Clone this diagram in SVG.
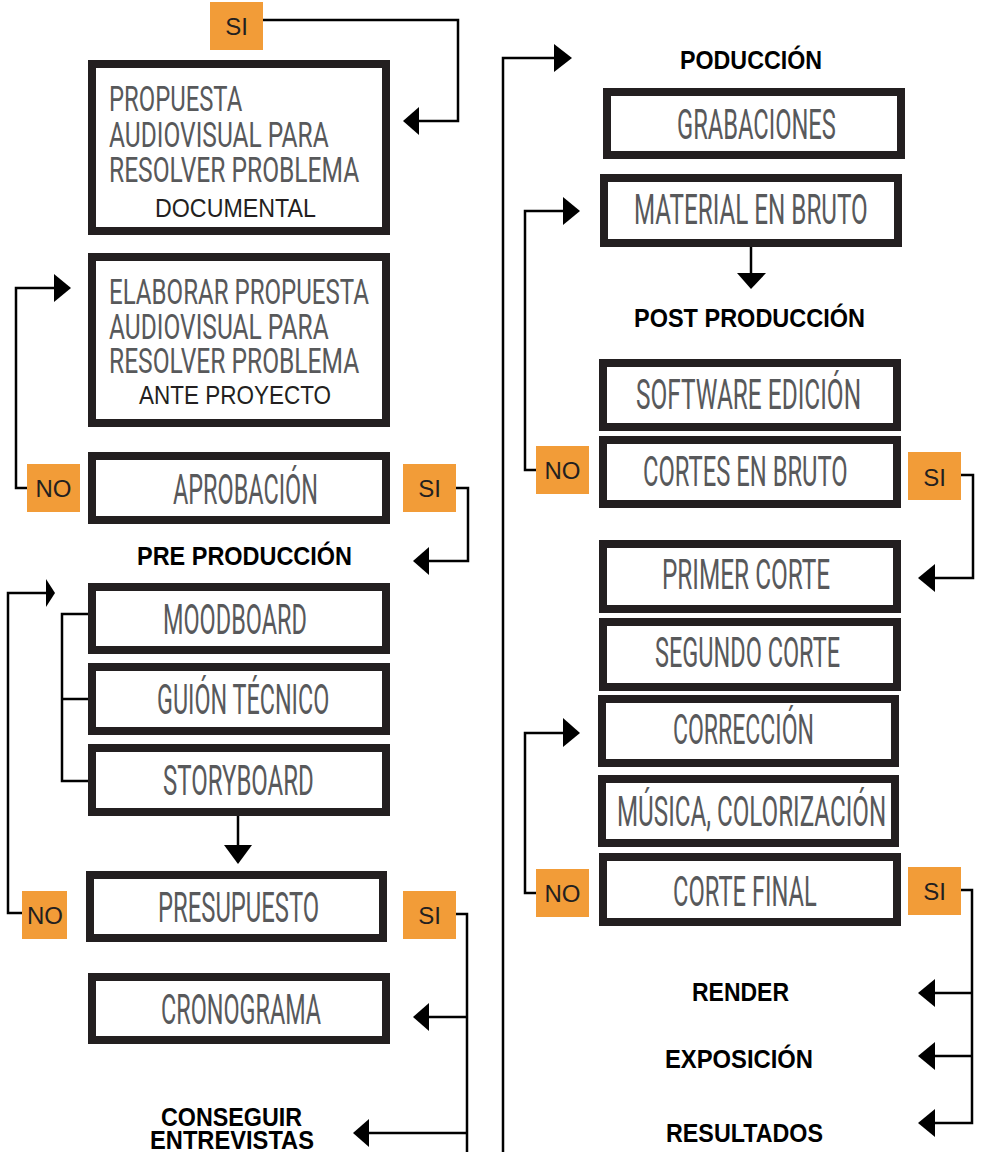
<svg xmlns="http://www.w3.org/2000/svg" width="983" height="1152" viewBox="0 0 983 1152">
<style>
.box{fill:#fff;stroke:#231f20;stroke-width:8}
.t{font-family:"Roboto","Liberation Sans",sans-serif;font-weight:400;fill:#58595b;font-size:42px}
.t2{font-size:35px}
.sub{font-family:"Liberation Sans",Arial,sans-serif;font-weight:normal;fill:#231f20;font-size:25px}
.h{font-family:"Liberation Sans",Arial,sans-serif;font-weight:bold;fill:#000;font-size:25px}
.lab{fill:#f29c38}
.lt{font-family:"Liberation Sans",Arial,sans-serif;font-size:24px;fill:#231f20;text-anchor:middle}
.c{fill:none;stroke:#000;stroke-width:2.5}
.ah{fill:#000}
</style>
<rect width="983" height="1152" fill="#fff"/>
<g id="connectors">
<path class="c" d="M263 20 H458 V121 H419"/>
<polygon class="ah" points="403,121 419,107 419,135"/>
<path class="c" d="M27 488 H16 V288 H54"/>
<polygon class="ah" points="71,288 54,274 54,302"/>
<path class="c" d="M456 488 H468 V561 H429"/>
<polygon class="ah" points="413,561 429,547 429,575"/>
<path class="c" d="M22 913 H8 V593 H46"/>
<polygon class="ah" points="55,593 46,579 46,607"/>
<path class="c" d="M88 614 H62 V781 H88 M62 699 H90"/>
<path class="c" d="M238 816 V846"/>
<polygon class="ah" points="238,864 224,845 252,845"/>
<path class="c" d="M456 914 H467 V1152 M467 1017 H429 M467 1133 H369"/>
<polygon class="ah" points="413,1017 429,1003 429,1031"/>
<polygon class="ah" points="353,1133 369,1119 369,1147"/>
<path class="c" d="M503 1152 V58 H554"/>
<polygon class="ah" points="572,58 554,44 554,72"/>
<path class="c" d="M536 470 H525 V211 H563"/>
<polygon class="ah" points="580,211 563,197 563,225"/>
<path class="c" d="M751 247 V274"/>
<polygon class="ah" points="751,289 737,273 766,273"/>
<path class="c" d="M961 475 H973 V578 H935"/>
<polygon class="ah" points="918,578 935,564 935,592"/>
<path class="c" d="M536 893 H525 V733 H563"/>
<polygon class="ah" points="580,733 563,718 563,747"/>
<path class="c" d="M961 890 H972 V1123 H935 M972 993 H935 M972 1056 H935"/>
<polygon class="ah" points="918,993 935,979 935,1007"/>
<polygon class="ah" points="918,1056 935,1042 935,1070"/>
<polygon class="ah" points="918,1123 935,1109 935,1137"/>
</g>
<g id="lab-si-1"><rect class="lab" x="210" y="2" width="53" height="48"/><text class="lt" x="236.5" y="35">SI</text></g>
<g id="lab-no-1"><rect class="lab" x="27" y="464" width="53" height="48"/><text class="lt" x="53.5" y="497">NO</text></g>
<g id="lab-si-2"><rect class="lab" x="403" y="464" width="53" height="48"/><text class="lt" x="429.5" y="497">SI</text></g>
<g id="lab-no-2"><rect class="lab" x="22" y="891" width="45" height="48"/><text class="lt" x="45" y="924">NO</text></g>
<g id="lab-si-3"><rect class="lab" x="403" y="891" width="53" height="48"/><text class="lt" x="429.5" y="924">SI</text></g>
<g id="lab-no-3"><rect class="lab" x="536" y="446" width="53" height="48"/><text class="lt" x="562.5" y="479">NO</text></g>
<g id="lab-si-4"><rect class="lab" x="908" y="452" width="53" height="48"/><text class="lt" x="934.5" y="486">SI</text></g>
<g id="lab-no-4"><rect class="lab" x="536" y="869" width="53" height="48"/><text class="lt" x="562.5" y="902">NO</text></g>
<g id="lab-si-5"><rect class="lab" x="908" y="867" width="53" height="48"/><text class="lt" x="934.5" y="900">SI</text></g>
<g id="propuesta">
<rect class="box" x="92" y="64" width="294" height="167"/>
<text class="t t2" transform="translate(109 111) scale(0.65 1)" textLength="205" lengthAdjust="spacingAndGlyphs">PROPUESTA</text>
<text class="t t2" transform="translate(109 147) scale(0.65 1)" textLength="338" lengthAdjust="spacingAndGlyphs">AUDIOVISUAL PARA</text>
<text class="t t2" transform="translate(109 182) scale(0.65 1)" textLength="385" lengthAdjust="spacingAndGlyphs">RESOLVER PROBLEMA</text>
<text class="sub" x="155" y="217" textLength="161" lengthAdjust="spacingAndGlyphs">DOCUMENTAL</text>
</g>
<g id="elaborar">
<rect class="box" x="92" y="257" width="294" height="166"/>
<text class="t t2" transform="translate(109 304) scale(0.65 1)" textLength="400" lengthAdjust="spacingAndGlyphs">ELABORAR PROPUESTA</text>
<text class="t t2" transform="translate(109 339) scale(0.65 1)" textLength="338" lengthAdjust="spacingAndGlyphs">AUDIOVISUAL PARA</text>
<text class="t t2" transform="translate(109 373) scale(0.65 1)" textLength="385" lengthAdjust="spacingAndGlyphs">RESOLVER PROBLEMA</text>
<text class="sub" x="139" y="404" textLength="192" lengthAdjust="spacingAndGlyphs">ANTE PROYECTO</text>
</g>
<g id="aprobacion"><rect class="box" x="92" y="456" width="294" height="64"/><text class="t" transform="translate(173 504) scale(0.58 1)" textLength="250" lengthAdjust="spacingAndGlyphs">APROBACIÓN</text></g>
<g id="preproduccion"><text class="h" x="137" y="565" textLength="215" lengthAdjust="spacingAndGlyphs">PRE PRODUCCIÓN</text></g>
<g id="moodboard"><rect class="box" x="92" y="587" width="294" height="63"/><text class="t" transform="translate(163 634) scale(0.58 1)" textLength="248" lengthAdjust="spacingAndGlyphs">MOODBOARD</text></g>
<g id="guion"><rect class="box" x="92" y="667" width="294" height="64"/><text class="t" transform="translate(157 714) scale(0.58 1)" textLength="297" lengthAdjust="spacingAndGlyphs">GUIÓN TÉCNICO</text></g>
<g id="storyboard"><rect class="box" x="92" y="748" width="294" height="64"/><text class="t" transform="translate(163 795) scale(0.58 1)" textLength="260" lengthAdjust="spacingAndGlyphs">STORYBOARD</text></g>
<g id="presupuesto"><rect class="box" x="90" y="875" width="293" height="63"/><text class="t" transform="translate(158 922) scale(0.58 1)" textLength="278" lengthAdjust="spacingAndGlyphs">PRESUPUESTO</text></g>
<g id="cronograma"><rect class="box" x="92" y="977" width="294" height="63"/><text class="t" transform="translate(161 1024) scale(0.58 1)" textLength="276" lengthAdjust="spacingAndGlyphs">CRONOGRAMA</text></g>
<g id="entrevistas">
<text class="h" x="161" y="1126" textLength="141" lengthAdjust="spacingAndGlyphs">CONSEGUIR</text>
<text class="h" x="150" y="1149" textLength="164" lengthAdjust="spacingAndGlyphs">ENTREVISTAS</text>
</g>
<g id="poduccion"><text class="h" x="680" y="69" textLength="142" lengthAdjust="spacingAndGlyphs">PODUCCIÓN</text></g>
<g id="grabaciones"><rect class="box" x="607" y="92" width="294" height="63"/><text class="t" transform="translate(677 139) scale(0.58 1)" textLength="274" lengthAdjust="spacingAndGlyphs">GRABACIONES</text></g>
<g id="material"><rect class="box" x="604" y="178" width="294" height="65"/><text class="t" transform="translate(634 224) scale(0.58 1)" textLength="403" lengthAdjust="spacingAndGlyphs">MATERIAL EN BRUTO</text></g>
<g id="postproduccion"><text class="h" x="634" y="327" textLength="231" lengthAdjust="spacingAndGlyphs">POST PRODUCCIÓN</text></g>
<g id="software"><rect class="box" x="603" y="363" width="294" height="64"/><text class="t" transform="translate(636 409) scale(0.58 1)" textLength="388" lengthAdjust="spacingAndGlyphs">SOFTWARE EDICIÓN</text></g>
<g id="cortesbruto"><rect class="box" x="603" y="440" width="294" height="64"/><text class="t" transform="translate(643 486) scale(0.58 1)" textLength="353" lengthAdjust="spacingAndGlyphs">CORTES EN BRUTO</text></g>
<g id="primercorte"><rect class="box" x="603" y="544" width="294" height="65"/><text class="t" transform="translate(662 589) scale(0.58 1)" textLength="290" lengthAdjust="spacingAndGlyphs">PRIMER CORTE</text></g>
<g id="segundocorte"><rect class="box" x="603" y="622" width="294" height="65"/><text class="t" transform="translate(655 667) scale(0.58 1)" textLength="319" lengthAdjust="spacingAndGlyphs">SEGUNDO CORTE</text></g>
<g id="correccion"><rect class="box" x="602" y="699" width="293" height="64"/><text class="t" transform="translate(673 744) scale(0.58 1)" textLength="243" lengthAdjust="spacingAndGlyphs">CORRECCIÓN</text></g>
<g id="musica"><rect class="box" x="602" y="779" width="293" height="64"/><text class="t" transform="translate(617 826) scale(0.58 1)" textLength="464" lengthAdjust="spacingAndGlyphs">MÚSICA, COLORIZACIÓN</text></g>
<g id="cortefinal"><rect class="box" x="603" y="857" width="294" height="65"/><text class="t" transform="translate(673 906) scale(0.58 1)" textLength="248" lengthAdjust="spacingAndGlyphs">CORTE FINAL</text></g>
<g id="render"><text class="h" x="692" y="1001" textLength="97" lengthAdjust="spacingAndGlyphs">RENDER</text></g>
<g id="exposicion"><text class="h" x="665" y="1068" textLength="148" lengthAdjust="spacingAndGlyphs">EXPOSICIÓN</text></g>
<g id="resultados"><text class="h" x="666" y="1142" textLength="157" lengthAdjust="spacingAndGlyphs">RESULTADOS</text></g>
</svg>
